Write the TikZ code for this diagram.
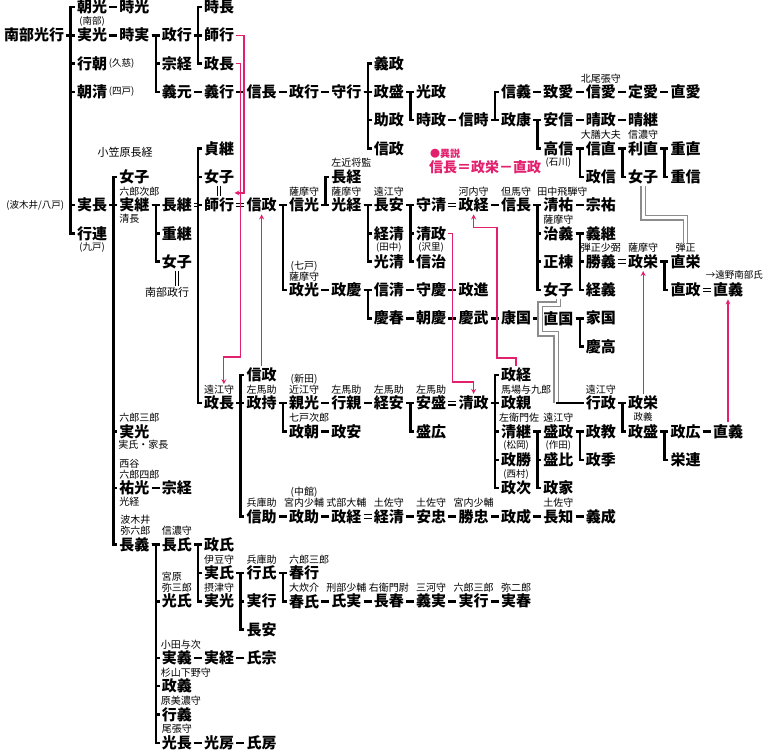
\documentclass[tikz,border=0pt]{standalone}
\usepackage{fontspec}
\newfontfamily\jpn{Noto Sans CJK JP}
\newcommand\nmf{\jpn\bfseries\fontsize{15}{16}\selectfont}
\newcommand\smf{\jpn\fontsize{10}{11}\selectfont}
\newcommand\paf{\jpn\fontsize{9.5}{11}\selectfont}
\newcommand\spf{\jpn\fontsize{11}{12}\selectfont}
\newcommand\vaf{\jpn\bfseries\fontsize{14}{15}\selectfont}
\definecolor{variant}{RGB}{226,32,110}

\begin{document}
\begin{tikzpicture}[x=42.4pt, y=-28.3pt, >=stealth,
    every node/.style={font=\nmf, inner sep=2pt},
    label distance=-1pt,
    sm/.style={font=\smf, inner sep=0.5pt, align=left},
    pa/.style={font=\paf, inner sep=0.5pt},
    sp/.style={font=\spf, inner sep=1pt},
    ln/.style={line width=2.5pt},
    br/.style={to path={-- ++(0.1,0) |- (\tikztotarget)}},
    vb/.style={to path={|- (\tikztotarget)}},
    dbl/.style={double, line width=1.1pt, double distance=2.6pt},
    eq/.style={double, line width=0.8pt, double distance=2.2pt},
    gdbl/.style={double, draw=black!45, line width=1.3pt, double distance=3pt},
    pk/.style={->, draw=variant, line width=1.2pt}]
    \fill[white] (-2.17,-0.247) rectangle (15.896,26.29);
    \useasboundingbox (-2.17,-0.247) rectangle (15.896,26.29);

    % Nodes: Mitsuyuki and the main line
    \node (mitsuyuki) at (-1.368,1) {南部光行};
    \node (tomomitsu) at (0,0) {朝光};
    \node[label={[pa]above:(南部)}] (sanemitsuA) at (0,1) {実光};
    \node[label={[pa]right:(久慈)}] (yukitomo) at (0,2) {行朝};
    \node[label={[pa]right:(四戸)}] (tomokiyo) at (0,3) {朝清};
    \node[label={[pa,xshift=-11pt]left:(波木井/八戸)}] (sanenaga) at (0,7) {実長};
    \node[label={[pa]below:(九戸)}] (yukitsura) at (0,8) {行連};
    \node (tokimitsu) at (1,0) {時光};
    \node (tokizane) at (1,1) {時実};
    \node (masayukiA) at (2,1) {政行};
    \node (munetsuneA) at (2,2) {宗経};
    \node (yoshimoto) at (2,3) {義元};
    \node (tokinaga) at (3,0) {時長};
    \node (moroyukiA) at (3,1) {師行};
    \node (masanagaA) at (3,2) {政長};
    \node (yoshiyuki) at (3,3) {義行};
    \node (nobunagaA) at (4,3) {信長};
    \node (masayukiB) at (5,3) {政行};
    \node (moriyuki) at (6,3) {守行};
    \node (yoshimasa) at (7,2) {義政};
    \node (masamoriA) at (7,3) {政盛};
    \node (sukemasa) at (7,4) {助政};
    \node (nobumasaC) at (7,5) {信政};
    \node (mitsumasa) at (8,3) {光政};
    \node (tokimasa) at (8,4) {時政};
    \node (nobutoki) at (9,4) {信時};
    \node (nobuyoshi) at (10,3) {信義};
    \node (masayasu) at (10,4) {政康};
    \node (munechika) at (11,3) {致愛};
    \node[label={[sm]above:北尾張守}] (nobuchika) at (12,3) {信愛};
    \node (sadachika) at (13,3) {定愛};
    \node (naochika) at (14,3) {直愛};
    \node (yasunobu) at (11,4) {安信};
    \node[label={[pa]below:(石川)}] (takanobu) at (11,5) {高信};
    \node (harumasa) at (12,4) {晴政};
    \node (haretsugu) at (13,4) {晴継};
    \node[label={[sm]above:大膳大夫}] (nobunao) at (12,5) {信直};
    \node (masanobu) at (12,6) {政信};
    \node[label={[sm]above:信濃守}] (toshinao) at (13,5) {利直};
    \node (joshiE) at (13,6) {女子};
    \node (shigenao) at (14,5) {重直};
    \node (shigenobu) at (14,6) {重信};

    % Nodes: Sanenaga's line
    \node[sp] (ogasawara) at (0.78,5.12) {小笠原長経};
    \node (joshiA) at (1,6) {女子};
    \node[label={[sm,xshift=5pt]above:六郎次郎}, label={[sm,xshift=-5pt]below:清長}] (sanetsugu) at (1,7) {実継};
    \node (nagatsugu) at (2,7) {長継};
    \node (shigetsugu) at (2,8) {重継};
    \node (joshiB) at (2,9) {女子};
    \node[sp] (nmasayuki) at (1.77,10.07) {南部政行};
    \node (sadatsugu) at (3,5) {貞継};
    \node (joshiC) at (3,6) {女子};
    \node (moroyukiB) at (3,7) {師行};
    \node (nobumasaA) at (4,7) {信政};
    \node[label={[sm]above:薩摩守}] (nobumitsu) at (5,7) {信光};
    \node[label={[sm,xshift=5pt]above:左近将監}] (nagatsune) at (6,6) {長経};
    \node[label={[sm]above:薩摩守}] (mitsutsune) at (6,7) {光経};
    \node[label={[sm]above:遠江守}] (nagayasuA) at (7,7) {長安};
    \node (tsunekiyoA) at (7,8) {経清};
    \node[label={[pa]above:(田中)}] (mitsukiyo) at (7,9) {光清};
    \node (morikiyo) at (8,7) {守清};
    \node (kiyomasaA) at (8,8) {清政};
    \node[label={[pa]above:(沢里)}] (nobuharu) at (8,9) {信治};
    \node[label={[sm]above:河内守}] (masatsuneA) at (9,7) {政経};
    \node[label={[sm]above:但馬守}] (nobunagaB) at (10,7) {信長};
    \node[label={[sm,xshift=4pt]above:田中飛騨守}] (kiyosuke) at (11,7) {清祐};
    \node (munesuke) at (12,7) {宗祐};
    \node[label={[sm]above:薩摩守}] (haruyoshi) at (11,8) {治義};
    \node (masamune) at (11,9) {正棟};
    \node (joshiD) at (11,10) {女子};
    \node (yoshitsugu) at (12,8) {義継};
    \node[label={[sm]above:弾正少弼}] (katsuyoshi) at (12,9) {勝義};
    \node (tsuneyoshi) at (12,10) {経義};
    \node[label={[sm]above:薩摩守}] (masahideA) at (13,9) {政栄};
    \node[label={[sm,name=danjo]above:弾正}] (naohide) at (14,9) {直栄};
    \node (naomasa) at (14,10) {直政};
    \node (naoyoshiA) at (15,10) {直義};
    \node[pa, anchor=west] (tono) at (14.46,9.47) {→遠野南部氏};
    \node[label={[sm,align=center]above:(七戸)\\薩摩守}] (masamitsu) at (5,10) {政光};
    \node (masayoshiK) at (6,10) {政慶};
    \node (nobukiyo) at (7,10) {信清};
    \node (moriyoshi) at (8,10) {守慶};
    \node (masanobuS) at (9,10) {政進};
    \node (yoshiharu) at (7,11) {慶春};
    \node (tomoyoshi) at (8,11) {朝慶};
    \node (yoshitake) at (9,11) {慶武};
    \node (yasukuni) at (10,11) {康国};
    \node (naokuni) at (11,11) {直国};
    \node (iekuni) at (12,11) {家国};
    \node (yoshitaka) at (12,12) {慶高};

    % Nodes: Masanaga's line
    \node (nobumasaB) at (4,13) {信政};
    \node[label={[sm,name=totomi]above:遠江守}] (masanagaB) at (3,14) {政長};
    \node[label={[sm]above:左馬助}] (masamochi) at (4,14) {政持};
    \node[label={[sm,align=center]above:(新田)\\近江守}] (chikamitsu) at (5,14) {親光};
    \node[label={[sm,xshift=5pt]above:七戸次郎}] (masatomo) at (5,15) {政朝};
    \node[label={[sm]above:左馬助}] (yukichika) at (6,14) {行親};
    \node (masayasuS) at (6,15) {政安};
    \node[label={[sm]above:左馬助}] (tsuneyasu) at (7,14) {経安};
    \node[label={[sm]above:左馬助}] (yasumori) at (8,14) {安盛};
    \node (morihiro) at (8,15) {盛広};
    \node (kiyomasaB) at (9,14) {清政};
    \node (masatsuneB) at (10,13) {政経};
    \node[label={[sm,xshift=10pt]above:馬場与九郎}] (masachika) at (10,14) {政親};
    \node[label={[sm,xshift=3pt]above:左衛門佐}] (kiyotsugu) at (10,15) {清継};
    \node[label={[pa]above:(松岡)}] (masakatsu) at (10,16) {政勝};
    \node[label={[pa]above:(西村)}] (masatsugu) at (10,17) {政次};
    \node[label={[sm]above:遠江守}] (morimasa) at (11,15) {盛政};
    \node[label={[pa]above:(作田)}] (morichika) at (11,16) {盛比};
    \node (masaie) at (11,17) {政家};
    \node (masanori) at (12,15) {政教};
    \node (masasue) at (12,16) {政季};
    \node[label={[sm]above:遠江守}] (yukimasa) at (12,14) {行政};
    \node[label={[pa]below:政義}] (masahideB) at (13,14) {政栄};
    \node (masamoriB) at (13,15) {政盛};
    \node (masahiro) at (14,15) {政広};
    \node (hidetsura) at (14,16) {栄連};
    \node (naoyoshiB) at (15,15) {直義};
    \node[label={[sm]above:兵庫助}] (nobusuke) at (4,18) {信助};
    \node[label={[sm,align=center]above:(中館)\\宮内少輔}] (masasuke) at (5,18) {政助};
    \node[label={[sm]above:式部大輔}] (masatsuneC) at (6,18) {政経};
    \node[label={[sm]above:土佐守}] (tsunekiyoB) at (7,18) {経清};
    \node[label={[sm]above:土佐守}] (yasutada) at (8,18) {安忠};
    \node[label={[sm]above:宮内少輔}] (katsutada) at (9,18) {勝忠};
    \node (masashige) at (10,18) {政成};
    \node[label={[sm]above:土佐守}] (nagatomo) at (11,18) {長知};
    \node (yoshishige) at (12,18) {義成};

    % Nodes: the younger sons of Sanenaga
    \node[label={[sm,xshift=5pt]above:六郎三郎}, label={[sm,xshift=9pt]below:実氏・家長}] (sanemitsuB) at (1,15) {実光};
    \node[label={[sm,xshift=5pt]above:西谷\\六郎四郎}, label={[sm,xshift=-5pt]below:光経}] (sukemitsu) at (1,17) {祐光};
    \node (munetsuneB) at (2,17) {宗経};
    \node[label={[sm,xshift=1pt]above:波木井\\弥六郎}] (nagayoshi) at (1,19) {長義};
    \node[label={[sm]above:信濃守}] (nagauji) at (2,19) {長氏};
    \node[label={[sm]above:宮原\\弥三郎}] (mitsuuji) at (2,21) {光氏};
    \node[label={[sm,xshift=4pt]above:小田与次}] (saneyoshi) at (2,23) {実義};
    \node[label={[sm,xshift=9pt]above:杉山下野守}] (masayoshiS) at (2,24) {政義};
    \node[label={[sm,xshift=4pt]above:原美濃守}] (yukiyoshi) at (2,25) {行義};
    \node[label={[sm]above:尾張守}] (mitsunaga) at (2,26) {光長};
    \node (masauji) at (3,19) {政氏};
    \node[label={[sm]above:伊豆守}] (saneuji) at (3,20) {実氏};
    \node[label={[sm]above:摂津守}] (sanemitsuC) at (3,21) {実光};
    \node[label={[sm]above:兵庫助}] (yukiuji) at (4,20) {行氏};
    \node (saneyukiA) at (4,21) {実行};
    \node (nagayasuB) at (4,22) {長安};
    \node[label={[sm,xshift=5pt]above:六郎三郎}] (haruyuki) at (5,20) {春行};
    \node[label={[sm]above:大炊介}] (haruuji) at (5,21) {春氏};
    \node[label={[sm]above:刑部少輔}] (ujizane) at (6,21) {氏実};
    \node[label={[sm]above:右衛門尉}] (nagaharu) at (7,21) {長春};
    \node[label={[sm]above:三河守}] (yoshizane) at (8,21) {義実};
    \node[label={[sm]above:六郎三郎}] (saneyukiB) at (9,21) {実行};
    \node[label={[sm]above:弥二郎}] (saneharu) at (10,21) {実春};
    \node (sanetsune) at (3,23) {実経};
    \node (ujimune) at (4,23) {氏宗};
    \node (mitsufusa) at (3,26) {光房};
    \node (ujifusa) at (4,26) {氏房};

    % the variant note
    \node[font=\jpn\bfseries\fontsize{10}{11}\selectfont, text=variant, anchor=west] (variantmark) at (7.92,5.19) {●異説};
    \node[font=\vaf, text=variant, anchor=west] (varianttext) at (7.9,5.67) {信長＝政栄－直政};

    % Edges: main line
    \draw[ln] (mitsuyuki.east) edge[br] (tomomitsu.west) edge[br] (sanemitsuA.west)
        edge[br] (yukitomo.west) edge[br] (tomokiyo.west) edge[br] (sanenaga.west)
        edge[br] (yukitsura.west);
    \draw[ln] (tomomitsu) -- (tokimitsu) (sanemitsuA) -- (tokizane);
    \draw[ln] (tokizane.east) edge[br] (masayukiA.west) edge[br] (munetsuneA.west) edge[br] (yoshimoto.west);
    \draw[ln] (masayukiA.east) edge[br] (tokinaga.west) edge[br] (moroyukiA.west) edge[br] (masanagaA.west);
    \draw[ln] (yoshimoto) -- (yoshiyuki) (yoshiyuki) -- (nobunagaA) (nobunagaA) -- (masayukiB) (masayukiB) -- (moriyuki);
    \draw[ln] (moriyuki.east) edge[br] (yoshimasa.west) edge[br] (masamoriA.west) edge[br] (sukemasa.west) edge[br] (nobumasaC.west);
    \draw[ln] (masamoriA.east) edge[br] (mitsumasa.west) edge[br] (tokimasa.west);
    \draw[ln] (tokimasa) -- (nobutoki);
    \draw[ln] (nobutoki.east) edge[br] (nobuyoshi.west) edge[br] (masayasu.west);
    \draw[ln] (nobuyoshi) -- (munechika) (munechika) -- (nobuchika) (nobuchika) -- (sadachika) (sadachika) -- (naochika);
    \draw[ln] (masayasu.east) edge[br] (yasunobu.west) edge[br] (takanobu.west);
    \draw[ln] (yasunobu) -- (harumasa) (harumasa) -- (haretsugu);
    \draw[ln] (takanobu.east) edge[br] (nobunao.west) edge[br] (masanobu.west);
    \draw[ln] (nobunao.east) edge[br] (toshinao.west) edge[br] (joshiE.west);
    \draw[ln] (toshinao.east) edge[br] (shigenao.west) edge[br] (shigenobu.west);

    % Edges: Sanenaga's line
    \draw[ln] (sanenaga.east) edge[br] (joshiA.west) edge[br] (sanetsugu.west) edge[br] (sanemitsuB.west)
        edge[br] (sukemitsu.west) edge[br] (nagayoshi.west);
    \draw[eq] (ogasawara.south -| joshiA.north) -- (joshiA.north);
    \draw[ln] (sanetsugu.east) edge[br] (nagatsugu.west) edge[br] (shigetsugu.west) edge[br] (joshiB.west);
    \draw[eq] (joshiB.south) -- (joshiB.south |- nmasayuki.north);
    \coordinate (nb) at (2.5,7);
    \draw[dbl] (nagatsugu.east) -- (nb);
    \draw[ln] (nb) edge[vb] (sadatsugu.west) edge[vb] (joshiC.west) edge[vb] (moroyukiB.west) edge[vb] (masanagaB.west);
    \draw[eq] (joshiC) -- (moroyukiB);
    \draw[dbl] (moroyukiB) -- (nobumasaA);
    \draw[ln] (nobumasaA.east) edge[br] (nobumitsu.west) edge[br] (masamitsu.west);
    \draw[ln] (nobumitsu.east) edge[br] (nagatsune.west) edge[br] (mitsutsune.west);
    \draw[ln] (mitsutsune.east) edge[br] (nagayasuA.west) edge[br] (tsunekiyoA.west) edge[br] (mitsukiyo.west);
    \draw[ln] (nagayasuA.east) edge[br] (morikiyo.west) edge[br] (kiyomasaA.west) edge[br] (nobuharu.west);
    \draw[dbl] (morikiyo) -- (masatsuneA);
    \draw[ln] (masatsuneA) -- (nobunagaB);
    \draw[ln] (nobunagaB.east) edge[br] (kiyosuke.west) edge[br] (haruyoshi.west) edge[br] (masamune.west) edge[br] (joshiD.west);
    \draw[ln] (kiyosuke) -- (munesuke);
    \draw[ln] (haruyoshi.east) edge[br] (yoshitsugu.west) edge[br] (katsuyoshi.west) edge[br] (tsuneyoshi.west);
    \draw[dbl] (katsuyoshi) -- (masahideA);
    \draw[ln] (masahideA.east) edge[br] (naohide.west) edge[br] (naomasa.west);
    \draw[dbl] (naomasa) -- (naoyoshiA);
    \draw[ln] (masamitsu) -- (masayoshiK);
    \draw[ln] (masayoshiK.east) edge[br] (nobukiyo.west) edge[br] (yoshiharu.west);
    \draw[ln] (nobukiyo) -- (moriyoshi) (moriyoshi) -- (masanobuS);
    \draw[ln] (yoshiharu) -- (tomoyoshi) (tomoyoshi) -- (yoshitake) (yoshitake) -- (yasukuni) (yasukuni) -- (naokuni);
    \draw[ln] (naokuni.east) edge[br] (iekuni.west) edge[br] (yoshitaka.west);

    % Edges: Masanaga's line
    \draw[ln] (masanagaB.east) edge[br] (nobumasaB.west) edge[br] (masamochi.west) edge[br] (nobusuke.west);
    \draw[ln] (masamochi.east) edge[br] (chikamitsu.west) edge[br] (masatomo.west);
    \draw[ln] (chikamitsu) -- (yukichika) (yukichika) -- (tsuneyasu);
    \draw[ln] (masatomo) -- (masayasuS);
    \draw[ln] (tsuneyasu.east) edge[br] (yasumori.west) edge[br] (morihiro.west);
    \draw[dbl] (yasumori) -- (kiyomasaB);
    \draw[ln] (kiyomasaB.east) edge[br] (masatsuneB.west) edge[br] (masachika.west) edge[br] (kiyotsugu.west)
        edge[br] (masakatsu.west) edge[br] (masatsugu.west);
    \draw[ln] (kiyotsugu.east) edge[br] (morimasa.west) edge[br] (morichika.west) edge[br] (masaie.west);
    \draw[ln] (morimasa.east) edge[br] (masanori.west) edge[br] (masasue.west);
    \draw[ln] (yukimasa.east) edge[br] (masahideB.west) edge[br] (masamoriB.west);
    \draw[ln] (masamoriB.east) edge[br] (masahiro.west) edge[br] (hidetsura.west);
    \draw[ln] (masahiro) -- (naoyoshiB);
    \draw[ln] (nobusuke) -- (masasuke) (masasuke) -- (masatsuneC);
    \draw[dbl] (masatsuneC) -- (tsunekiyoB);
    \draw[ln] (tsunekiyoB) -- (yasutada) (yasutada) -- (katsutada) (katsutada) -- (masashige)
        (masashige) -- (nagatomo) (nagatomo) -- (yoshishige);

    % Edges: younger sons
    \draw[ln] (sukemitsu) -- (munetsuneB);
    \draw[ln] (nagayoshi.east) edge[br] (nagauji.west) edge[br] (mitsuuji.west) edge[br] (saneyoshi.west)
        edge[br] (masayoshiS.west) edge[br] (yukiyoshi.west) edge[br] (mitsunaga.west);
    \draw[ln] (nagauji.east) edge[br] (masauji.west) edge[br] (saneuji.west) edge[br] (sanemitsuC.west);
    \draw[ln] (saneuji.east) edge[br] (yukiuji.west) edge[br] (saneyukiA.west) edge[br] (nagayasuB.west);
    \draw[ln] (yukiuji.east) edge[br] (haruyuki.west) edge[br] (haruuji.west);
    \draw[ln] (haruuji) -- (ujizane) (ujizane) -- (nagaharu) (nagaharu) -- (yoshizane)
        (yoshizane) -- (saneyukiB) (saneyukiB) -- (saneharu);
    \draw[ln] (saneyoshi) -- (sanetsune) (sanetsune) -- (ujimune);
    \draw[ln] (mitsunaga) -- (mitsufusa) (mitsufusa) -- (ujifusa);

    % marriages (grey double lines)
    \draw[gdbl] (joshiE.south) -- ++(0,1.12) -| (danjo.north);
    \coordinate (g1) at (10.57,10.5);
    \coordinate (g2) at (10.95,11.55);
    \coordinate (g3) at (10.95,14);
    \draw[gdbl] (joshiD.south) |- (g1) |- (g2) -- (g3);
    \draw[ln] (g3) -- (yukimasa.west);

    % same person (pink arrows)
    \coordinate (pa) at (3.36,6.57);
    \draw[pk] (moroyukiA.east) -- ++(0.18,0) |- (pa);
    \coordinate (pb) at (3.11,12.37);
    \draw[pk] (masanagaA.east) -- ++(0.09,0) |- (pb) -- (pb |- totomi.north);
    \draw[pk] (nobumasaB) -- (nobumasaA);
    \coordinate (pc) at (9,13.25);
    \draw[pk] (kiyomasaA.east) -- ++(0.09,0) |- (pc) -- (kiyomasaB);
    \coordinate (pd) at (9.55,12.4);
    \coordinate (pe) at (9,7.8);
    \draw[pk] (masatsuneB.north) |- (pd) |- (pe) -- (masatsuneA);
    \draw[pk] (masahideB) -- (masahideA);
    \draw[pk] (naoyoshiB) -- (naoyoshiA);
\end{tikzpicture}
\end{document}
